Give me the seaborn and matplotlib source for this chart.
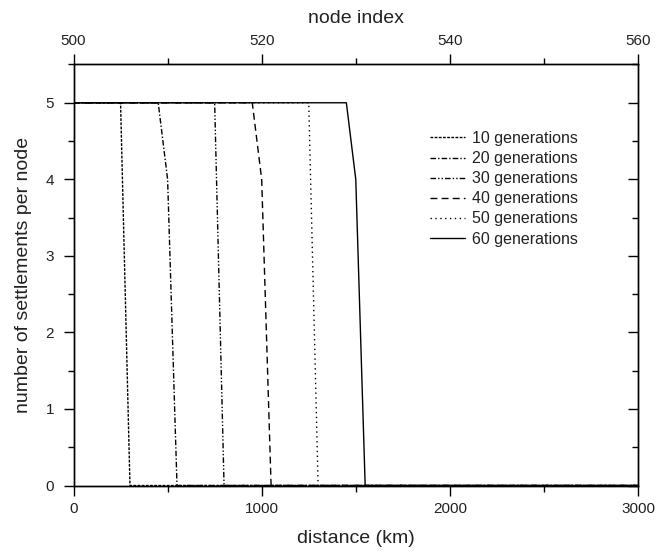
import matplotlib
matplotlib.use('Agg')
import matplotlib.pyplot as plt
import matplotlib.lines as mlines
import seaborn as sns
import pandas as pd
from matplotlib.ticker import MultipleLocator

sns.set_theme(style='ticks')
plt.rcParams['font.family'] = ['Liberation Sans', 'DejaVu Sans']

# ---- data ----
series_labels = ['10 generations', '20 generations', '30 generations',
                 '40 generations', '50 generations', '60 generations']
gen10_km = [0, 250, 300, 3000]
gen10_n = [5, 5, 0, 0]
gen20_km = [0, 450, 500, 550, 3000]
gen20_n = [5, 5, 4, 0, 0]
gen30_km = [0, 750, 800, 3000]
gen30_n = [5, 5, 0, 0]
gen40_km = [0, 950, 1000, 1050, 3000]
gen40_n = [5, 5, 4, 0, 0]
gen50_km = [0, 1250, 1300, 3000]
gen50_n = [5, 5, 0, 0]
gen60_km = [0, 1450, 1500, 1550, 3000]
gen60_n = [5, 5, 4, 0, 0]

node_range = [500, 560]
distance_range = [0, 3000]

xs = [gen10_km, gen20_km, gen30_km, gen40_km, gen50_km, gen60_km]
ys = [gen10_n, gen20_n, gen30_n, gen40_n, gen50_n, gen60_n]
styles = [(0, (2, 1)), (0, (4, 1.5, 1, 1.5)), (0, (4, 1.5, 1, 1.5, 1, 1.5)),
          (0, (5, 3)), (0, (1, 2.5)), '-']

fig = plt.figure(figsize=(6.57, 5.54), dpi=100)
ax = fig.add_axes([0.1119, 0.1236, 0.8592, 0.760])

for x, y, lab, ls in zip(xs, ys, series_labels, styles):
    df = pd.DataFrame({'distance': x, 'settlements': y})
    sns.lineplot(data=df, x='distance', y='settlements', ax=ax, color='black',
                 linewidth=1.0, linestyle=ls, label=lab, sort=False,
                 estimator=None)

ax.set_xlim(*distance_range)
ax.set_ylim(0, 5.5)
ax.xaxis.set_major_locator(MultipleLocator(1000))
ax.xaxis.set_minor_locator(MultipleLocator(500))
ax.yaxis.set_major_locator(MultipleLocator(1))
ax.yaxis.set_minor_locator(MultipleLocator(0.5))

ax.tick_params(axis='both', which='major', direction='out', length=7,
               width=1.0, labelsize=11, color='black', labelcolor='#222222', pad=5)
ax.tick_params(axis='both', which='minor', direction='out', length=4,
               width=1.0, color='black')
ax.tick_params(axis='y', which='major', pad=7)
ax.tick_params(axis='y', which='both', right=True, labelright=False)
ax.tick_params(axis='x', which='both', top=False)

ax.set_xlabel('distance (km)', fontsize=14, color='#222222', labelpad=10)
ax.set_ylabel('number of settlements per node', fontsize=14, color='#222222', labelpad=10)

top = ax.twiny()
top.set_xlim(*node_range)
top.xaxis.set_major_locator(MultipleLocator(20))
top.xaxis.set_minor_locator(MultipleLocator(10))
top.tick_params(axis='x', which='major', direction='out', length=7, width=1.0,
                labelsize=11, color='black', labelcolor='#222222', pad=5,
                top=True, bottom=False, labeltop=True, labelbottom=False)
top.tick_params(axis='x', which='minor', direction='out', length=4, width=1.0,
                color='black', top=True, bottom=False)
top.tick_params(axis='y', left=False, right=False, labelleft=False, labelright=False)
top.set_xlabel('node index', fontsize=14, color='#222222', labelpad=8)

for a in (ax, top):
    for s in a.spines.values():
        s.set_visible(True)
        s.set_linewidth(1.0)
        s.set_color('black')

fig.canvas.draw()
# right side ticks inward, top ticks outward
for t in ax.yaxis.get_major_ticks():
    t.tick2line.set_marker(mlines.TICKLEFT)
    t.tick2line.set_markersize(7)
for t in ax.yaxis.get_minor_ticks():
    t.tick2line.set_marker(mlines.TICKLEFT)
    t.tick2line.set_markersize(4)
for t in top.xaxis.get_major_ticks():
    t.tick2line.set_marker(mlines.TICKUP)
    t.tick2line.set_markersize(7)
for t in top.xaxis.get_minor_ticks():
    t.tick2line.set_marker(mlines.TICKUP)
    t.tick2line.set_markersize(4)

leg = ax.legend(loc='upper left', bbox_to_anchor=(430 / 657, 1 - 131 / 554),
                bbox_transform=fig.transFigure, frameon=False, fontsize=11.5,
                handlelength=2.2, handletextpad=0.4, labelspacing=0.32,
                borderpad=0, borderaxespad=0)
for txt in leg.get_texts():
    txt.set_color('#222222')

fig.savefig('out.png', dpi=100)
